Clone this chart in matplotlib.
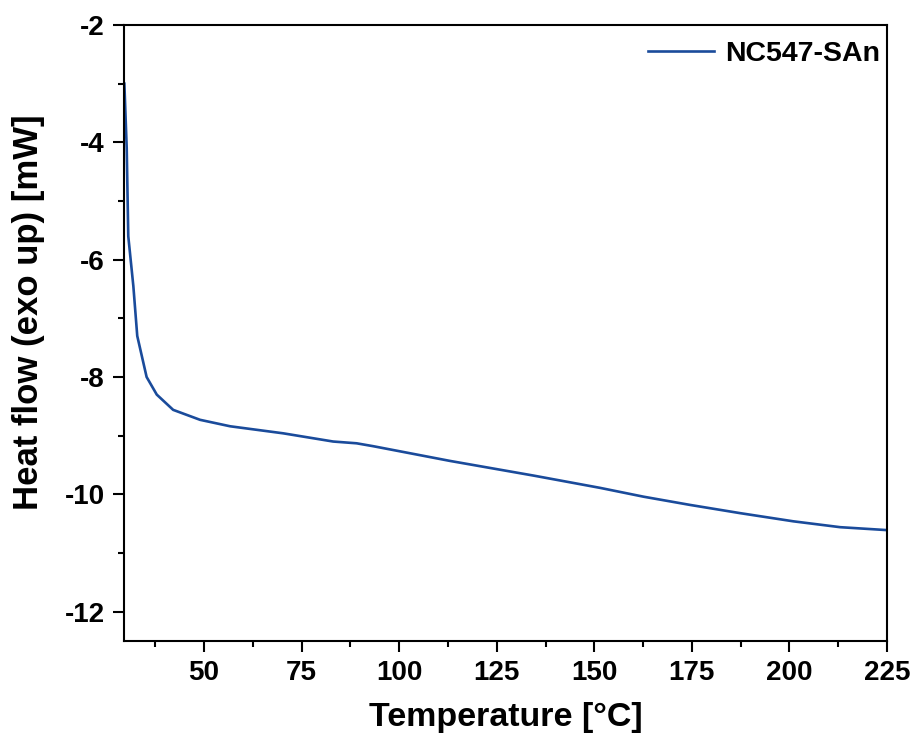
import matplotlib
matplotlib.use('Agg')
import matplotlib.pyplot as plt
from matplotlib.ticker import MultipleLocator

# DSC curve
temperature = [29.6, 30.2, 30.6, 31.9, 32.9, 35.3, 37.9, 42.1, 49.0, 56.7,
               70.3, 83.1, 89.1, 93.4, 113.0, 134.4, 151.5, 162.6, 174.5, 187.3,
               201.0, 213.0, 225.0]
heat_flow = [-3.0, -4.1, -5.6, -6.45, -7.3, -8.0, -8.3, -8.56, -8.73, -8.84,
             -8.96, -9.10, -9.13, -9.18, -9.43, -9.68, -9.89, -10.04, -10.18, -10.32,
             -10.46, -10.56, -10.61]
series_name = 'NC547-SAn'

plt.rcParams['font.family'] = ['Liberation Sans', 'DejaVu Sans']
plt.rcParams['font.weight'] = 'bold'
plt.rcParams['axes.unicode_minus'] = False

fig = plt.figure(figsize=(9.17, 7.49), dpi=100)
ax = fig.add_axes([0.1352, 0.1442, 0.8321, 0.8224])

ax.plot(temperature, heat_flow, color='#1a4b9b', linewidth=1.9, label=series_name)

ax.set_xlim(29.5, 225)
ax.set_ylim(-12.5, -2)
ax.xaxis.set_major_locator(MultipleLocator(25))
ax.xaxis.set_minor_locator(MultipleLocator(12.5))
ax.yaxis.set_major_locator(MultipleLocator(2))
ax.yaxis.set_minor_locator(MultipleLocator(1))

for s in ax.spines.values():
    s.set_linewidth(1.5)

ax.tick_params(which='major', direction='out', length=8, width=1.5, labelsize=20, pad=6)
ax.tick_params(which='minor', direction='out', length=4, width=1.5)
for lbl in ax.get_xticklabels() + ax.get_yticklabels():
    lbl.set_fontweight('bold')

ax.set_xlabel('Temperature [°C]', fontsize=24.5, fontweight='bold', labelpad=11)
ax.set_ylabel('Heat flow (exo up) [mW]', fontsize=25, fontweight='bold')
ax.yaxis.set_label_coords(-0.103, 0.534)

ax.legend(loc='upper right', bbox_to_anchor=(1.0, 0.985), frameon=False,
          handlelength=2.3, handletextpad=0.4, borderaxespad=0.05, borderpad=0.2,
          prop={'weight': 'bold', 'size': 20.5})

plt.savefig('out.png', dpi=100)
plt.close()
